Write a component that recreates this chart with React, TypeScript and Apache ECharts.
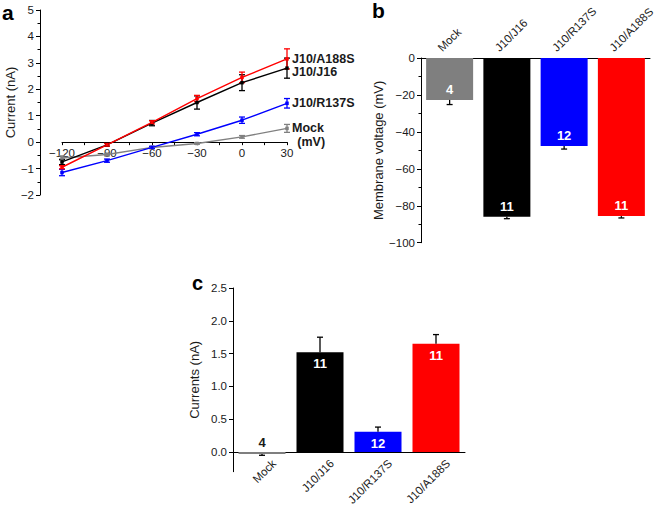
import React, { useEffect, useRef } from 'react';
import * as echarts from 'echarts';

// ---------- Data ----------
const voltages = [-120, -90, -60, -30, 0, 30];
const mockCurrent = [-0.6, -0.47, -0.2, -0.05, 0.2, 0.52];
const mockCurrentErr = [0.08, 0.05, 0.04, 0.03, 0.05, 0.15];
const j16Current = [-0.75, -0.1, 0.72, 1.5, 2.25, 2.8];
const j16CurrentErr = [0.1, 0.05, 0.1, 0.25, 0.3, 0.38];
const r137Current = [-1.15, -0.7, -0.2, 0.3, 0.83, 1.47];
const r137CurrentErr = [0.12, 0.06, 0.04, 0.06, 0.12, 0.18];
const a188Current = [-0.95, -0.1, 0.75, 1.65, 2.45, 3.15];
const a188CurrentErr = [0.06, 0.05, 0.06, 0.12, 0.2, 0.38];

const groups = ['Mock', 'J10/J16', 'J10/R137S', 'J10/A188S'];
const groupColors = ['#7f7f7f', '#000000', '#0000ff', '#ff0000'];
const cellCounts = ['4', '11', '12', '11'];
const membraneVoltage = [-22.7, -86, -47.6, -85.6];
const membraneVoltageErr = [2.5, 1, 1.7, 1];
const meanCurrents = [-0.03, 1.52, 0.31, 1.65];
const meanCurrentsErr = [0.02, 0.23, 0.07, 0.14];

const currentTicks = [0, 0.5, 1, 1.5, 2, 2.5];

// ---------- Helpers ----------
const FONT = '"Liberation Sans", Arial, Helvetica, sans-serif';
const TXT = '#1a1a1a';
const minus = (v: number | string) => String(v).replace('-', '\u2212');

const errRender = (color: string, capW: number, both: boolean) => (params: any, api: any) => {
  const x = api.value(0);
  const a = api.coord([x, api.value(1)]);
  const b = api.coord([x, api.value(2)]);
  const style = { stroke: color, lineWidth: 1.3 };
  const children: any[] = [
    { type: 'line', shape: { x1: a[0], y1: a[1], x2: b[0], y2: b[1] }, style },
    { type: 'line', shape: { x1: b[0] - capW, y1: b[1], x2: b[0] + capW, y2: b[1] }, style },
  ];
  if (both) children.push({ type: 'line', shape: { x1: a[0] - capW, y1: a[1], x2: a[0] + capW, y2: a[1] }, style });
  return { type: 'group', children };
};

const lineSeries = (name: string, vals: number[], errs: number[], color: string, labelOffset: number[]) => [
  {
    type: 'custom',
    xAxisIndex: 0,
    yAxisIndex: 0,
    renderItem: errRender(color, 3, true),
    data: vals.map((v, i) => [voltages[i], v - errs[i], v + errs[i]]),
    z: 3,
  },
  {
    type: 'line',
    name,
    xAxisIndex: 0,
    yAxisIndex: 0,
    data: vals.map((v, i) => [voltages[i], v]),
    lineStyle: { color, width: 1.4 },
    itemStyle: { color },
    symbol: 'rect',
    symbolSize: 3.5,
    z: 4,
    endLabel: {
      show: true,
      formatter: name,
      distance: 5,
      offset: labelOffset,
      fontFamily: FONT,
      fontWeight: 'bold',
      fontSize: 12.5,
      color: TXT,
    },
  },
];

const axisLineStyle = { show: true, onZero: false, lineStyle: { color: '#000', width: 1 } };
const hiddenAxis = { show: false };

// grid geometry
const A_TOP = 10, A_H = 185, A_MIN = -2, A_MAX = 5;
const C_TOP = 288, C_H = 183.7, C_MIN = -0.3, C_MAX = 2.5, C_AXMAX = 2.75;

export default function App() {
  const ref = useRef<HTMLDivElement>(null);
  useEffect(() => {
    if (!ref.current) return;
    const chart = echarts.init(ref.current, null, { renderer: 'svg' });
    const cSpan = C_MAX - C_MIN;
    const option: any = {
      animation: false,
      backgroundColor: '#ffffff',
      textStyle: { fontFamily: FONT },
      grid: [
        { left: 62, top: A_TOP, width: 225, height: A_H, outerBoundsMode: 'none', containLabel: false },
        { left: 62, top: A_TOP, width: 225, height: (A_H * A_MAX) / (A_MAX - A_MIN), outerBoundsMode: 'none', containLabel: false },
        { left: 421, top: 58, width: 229, height: 184.7, outerBoundsMode: 'none', containLabel: false },
        { left: 233, top: C_TOP, width: 232, height: C_H, outerBoundsMode: 'none', containLabel: false },
        {
          left: 233,
          top: C_TOP + (C_H * (C_MAX - C_AXMAX)) / cSpan,
          width: 232,
          height: (C_H * C_AXMAX) / cSpan,
          outerBoundsMode: 'none',
          containLabel: false,
        },
      ],
      xAxis: [
        { gridIndex: 0, type: 'value', min: -120, max: 30, interval: 30, show: false },
        {
          gridIndex: 1,
          type: 'value',
          position: 'bottom',
          min: -120,
          max: 30,
          interval: 30,
          name: '(mV)',
          nameLocation: 'end',
          nameGap: 10,
          nameTextStyle: { fontFamily: FONT, fontWeight: 'bold', fontSize: 12.5, color: TXT },
          axisLine: axisLineStyle,
          axisTick: { show: true, length: 3, lineStyle: { color: '#000' } },
          minorTick: { show: true, splitNumber: 2, length: 3, lineStyle: { color: '#000' } },
          splitLine: { show: false },
          axisLabel: { fontFamily: FONT, fontSize: 11.5, color: TXT, margin: 5, formatter: (v: number) => minus(v) },
        },
        {
          gridIndex: 2,
          type: 'category',
          position: 'top',
          data: groups,
          axisLine: axisLineStyle,
          axisTick: { show: false },
          axisLabel: {
            fontFamily: FONT,
            fontSize: 11.5,
            color: TXT,
            rotate: -45,
            align: 'left',
            verticalAlign: 'bottom',
            padding: [0, 0, 0, -8],
            margin: 10,
            interval: 0,
          },
        },
        { gridIndex: 3, type: 'category', data: groups, show: false },
        {
          gridIndex: 4,
          type: 'category',
          position: 'bottom',
          data: groups,
          axisLine: axisLineStyle,
          axisTick: { show: false },
          axisLabel: {
            fontFamily: FONT,
            fontSize: 11.5,
            color: TXT,
            rotate: 45,
            align: 'right',
            verticalAlign: 'top',
            padding: [0, -11, 0, 0],
            margin: 13,
            interval: 0,
          },
        },
      ],
      yAxis: [
        {
          gridIndex: 0,
          type: 'value',
          min: A_MIN,
          max: A_MAX,
          interval: 1,
          offset: 22,
          name: 'Current (nA)',
          nameLocation: 'middle',
          nameGap: 22,
          nameTextStyle: { fontFamily: FONT, fontSize: 13, color: TXT },
          axisLine: axisLineStyle,
          axisTick: { show: true, length: 4, lineStyle: { color: '#000' } },
          minorTick: { show: true, splitNumber: 2, length: 2.5, lineStyle: { color: '#000' } },
          splitLine: { show: false },
          axisLabel: { fontFamily: FONT, fontSize: 11.5, color: TXT, margin: 6, formatter: (v: number) => minus(v) },
        },
        { gridIndex: 1, type: 'value', min: 0, max: A_MAX, ...hiddenAxis },
        {
          gridIndex: 2,
          type: 'value',
          min: -100,
          max: 0,
          interval: 20,
          name: 'Membrane voltage (mV)',
          nameLocation: 'middle',
          nameGap: 35,
          nameTextStyle: { fontFamily: FONT, fontSize: 13, color: TXT },
          axisLine: axisLineStyle,
          axisTick: { show: true, length: 4, lineStyle: { color: '#000' } },
          minorTick: { show: true, splitNumber: 2, length: 2.5, lineStyle: { color: '#000' } },
          splitLine: { show: false },
          axisLabel: { fontFamily: FONT, fontSize: 11.5, color: TXT, margin: 6, formatter: (v: number) => minus(v) },
        },
        {
          gridIndex: 3,
          type: 'value',
          min: C_MIN,
          max: C_MAX,
          name: 'Currents (nA)',
          nameLocation: 'middle',
          nameGap: 32,
          nameTextStyle: { fontFamily: FONT, fontSize: 13, color: TXT },
          axisLine: axisLineStyle,
          axisTick: { show: false },
          axisLabel: { show: false },
          splitLine: { show: false },
        },
        {
          gridIndex: 4,
          type: 'value',
          min: 0,
          max: C_AXMAX,
          axisLine: { show: false },
          axisTick: { show: true, length: 4, customValues: currentTicks, lineStyle: { color: '#000' } },
          splitLine: { show: false },
          axisLabel: {
            fontFamily: FONT,
            fontSize: 11.5,
            color: TXT,
            margin: 6,
            hideOverlap: false,
            showMinLabel: true,
            showMaxLabel: true,
            customValues: currentTicks,
            formatter: (v: number) => v.toFixed(1),
          },
        },
      ],
      series: [
        ...lineSeries('Mock', mockCurrent, mockCurrentErr, '#808080', [0, 0]),
        ...lineSeries('J10/R137S', r137Current, r137CurrentErr, '#0000ff', [0, 0]),
        ...lineSeries('J10/J16', j16Current, j16CurrentErr, '#000000', [0, 4]),
        ...lineSeries('J10/A188S', a188Current, a188CurrentErr, '#ff0000', [0, 0]),
        {
          type: 'bar',
          xAxisIndex: 2,
          yAxisIndex: 2,
          barWidth: 47,
          data: membraneVoltage.map((v, i) => ({ value: v, itemStyle: { color: groupColors[i] } })),
          label: {
            show: true,
            position: 'insideBottom',
            distance: 4,
            fontFamily: FONT,
            fontWeight: 'bold',
            fontSize: 13,
            color: '#ffffff',
            formatter: (p: any) => cellCounts[p.dataIndex],
          },
          z: 2,
        },
        {
          type: 'custom',
          xAxisIndex: 2,
          yAxisIndex: 2,
          renderItem: errRender('#000000', 3, false),
          data: membraneVoltage.map((v, i) => [i, v, v - membraneVoltageErr[i]]),
          z: 3,
        },
        {
          type: 'bar',
          xAxisIndex: 3,
          yAxisIndex: 3,
          barWidth: 47,
          data: meanCurrents.map((v, i) => ({
            value: v,
            itemStyle: { color: groupColors[i] },
            label:
              i === 0
                ? { position: 'top', distance: 3, color: TXT }
                : { position: 'insideTop', distance: 5, color: '#ffffff' },
          })),
          label: {
            show: true,
            fontFamily: FONT,
            fontWeight: 'bold',
            fontSize: 13,
            formatter: (p: any) => cellCounts[p.dataIndex],
          },
          z: 2,
        },
        {
          type: 'custom',
          xAxisIndex: 3,
          yAxisIndex: 3,
          renderItem: errRender('#000000', 3, false),
          data: meanCurrents.map((v, i) => [i, v, v + (v < 0 ? -meanCurrentsErr[i] : meanCurrentsErr[i])]),
          z: 3,
        },
      ],
      graphic: [
        { type: 'text', left: 2, top: 2, style: { text: 'a', font: `bold 21px ${FONT}`, fill: '#000' } },
        { type: 'text', left: 372, top: 0, style: { text: 'b', font: `bold 21px ${FONT}`, fill: '#000' } },
        { type: 'text', left: 192, top: 273, style: { text: 'c', font: `bold 20px ${FONT}`, fill: '#000' } },
      ],
    };
    chart.setOption(option);
    return () => chart.dispose();
  }, []);
  return <div ref={ref} style={{ position: 'fixed', left: 0, top: 0, width: 661, height: 508 }} />;
}
